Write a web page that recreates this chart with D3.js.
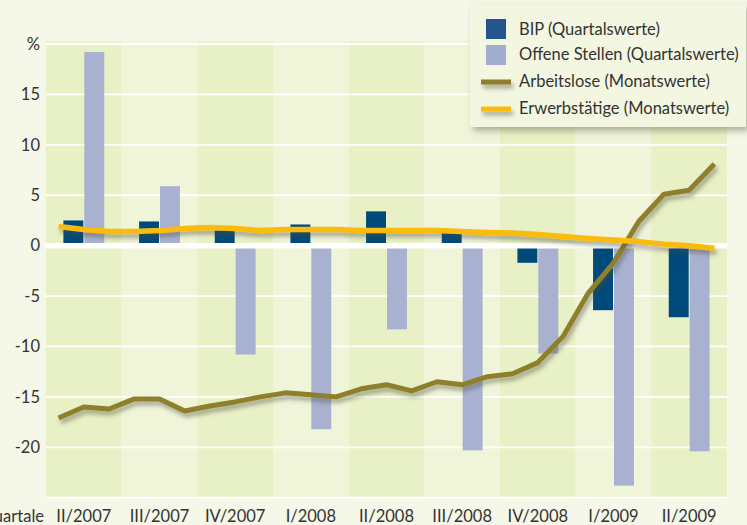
<!DOCTYPE html>
<html>
<head>
<meta charset="utf-8">
<script src="https://cdn.jsdelivr.net/npm/d3@7"></script>
<style>
  html, body { margin: 0; padding: 0; background: #f5f7e9; }
  svg { display: block; font-family: Lato, "Open Sans", sans-serif; }
</style>
</head>
<body>
<svg width="747" height="525"></svg>
<script>
// quarterly data (change vs. previous year, %)
var quarters = ["II/2007", "III/2007", "IV/2007", "I/2008", "II/2008", "III/2008", "IV/2008", "I/2009", "II/2009"];
var bip = [2.5, 2.4, 1.5, 2.1, 3.4, 1.3, -1.7, -6.4, -7.1];
var offeneStellen = [19.2, 5.9, -10.8, -18.2, -8.3, -20.3, -10.7, -23.8, -20.4];

// monthly data, April 2007 .. June 2009
var arbeitslose = [-17.1, -16.0, -16.2, -15.2, -15.2, -16.4, -15.9, -15.5, -15.0, -14.6,
    -14.8, -15.0, -14.2, -13.8, -14.4, -13.5, -13.8, -13.0, -12.7, -11.6,
    -9.0, -4.7, -1.7, 2.4, 5.1, 5.5, 8.1];
var erwerbstaetige = [1.9, 1.6, 1.4, 1.4, 1.5, 1.7, 1.8, 1.7, 1.5, 1.6,
    1.6, 1.6, 1.5, 1.5, 1.5, 1.5, 1.4, 1.3, 1.25, 1.1,
    0.9, 0.7, 0.55, 0.4, 0.15, 0.0, -0.25];

var yTicks = [20, 15, 10, 5, 0, -5, -10, -15, -20];
var yTickLabels = ["%", "15", "10", "5", "0", "-5", "-10", "-15", "-20"];

var legendLabels = ["BIP (Quartalswerte)", "Offene Stellen (Quartalswerte)", "Arbeitslose (Monatswerte)", "Erwerbstätige (Monatswerte)"];

var svg = d3.select("svg"),
    plotLeft = 46, plotRight = 727, plotTop = 44, plotBottom = 497.7,
    colors = { bip: "#004a7b", offene: "#a8b1cf", arbeitslose: "#8f7f2b", erwerbs: "#fbbb11" };

var x = d3.scaleBand().domain(quarters).range([plotLeft, plotRight]).padding(0);
var xMonth = d3.scaleLinear().domain([0, arbeitslose.length]).range([plotLeft, plotRight]);
var y = d3.scaleLinear().domain([20, -25]).range([plotTop, plotBottom]);

var defs = svg.append("defs");
var shadow = defs.append("filter").attr("id", "shadow")
    .attr("filterUnits", "userSpaceOnUse")
    .attr("x", 0).attr("y", 0).attr("width", 747).attr("height", 525);
shadow.append("feDropShadow").attr("dx", 2).attr("dy", 4).attr("stdDeviation", 2.2)
    .attr("flood-color", "#4a4a3a").attr("flood-opacity", 0.45);
var boxShadow = defs.append("filter").attr("id", "boxshadow")
    .attr("x", "-10%").attr("y", "-10%").attr("width", "130%").attr("height", "140%");
boxShadow.append("feDropShadow").attr("dx", 3).attr("dy", 4).attr("stdDeviation", 3)
    .attr("flood-color", "#6b6b55").attr("flood-opacity", 0.5);

// alternating column bands
svg.append("g").selectAll("rect")
    .data(quarters)
    .enter().append("rect")
    .attr("x", function(d) { return x(d); })
    .attr("y", plotTop - 3)
    .attr("width", x.bandwidth())
    .attr("height", plotBottom - plotTop + 3)
    .attr("fill", function(d, i) { return i % 2 === 0 ? "#e8f0c5" : "#f0f5d9"; });

// grid
svg.append("g").selectAll("line")
    .data(yTicks.concat([-25]))
    .enter().append("line")
    .attr("x1", plotLeft).attr("x2", plotRight)
    .attr("y1", function(d) { return y(d); })
    .attr("y2", function(d) { return y(d); })
    .attr("stroke", "#fff")
    .attr("stroke-width", 1.8);

// bars
var barW = x.bandwidth() * 0.27;
var bars = svg.append("g");
bars.selectAll("rect.bip")
    .data(bip)
    .enter().append("rect")
    .attr("class", "bip")
    .attr("x", function(d, i) { return x(quarters[i]) + x.bandwidth() / 2 - barW; })
    .attr("y", function(d) { return y(Math.max(0, d)); })
    .attr("width", barW - 0.5)
    .attr("height", function(d) { return Math.abs(y(d) - y(0)); })
    .attr("fill", colors.bip);
bars.selectAll("rect.offene")
    .data(offeneStellen)
    .enter().append("rect")
    .attr("class", "offene")
    .attr("x", function(d, i) { return x(quarters[i]) + x.bandwidth() / 2 + 0.5; })
    .attr("y", function(d) { return y(Math.max(0, d)); })
    .attr("width", barW - 0.5)
    .attr("height", function(d) { return Math.abs(y(d) - y(0)); })
    .attr("fill", colors.offene);

// zero line
svg.append("line")
    .attr("x1", plotLeft - 1).attr("x2", plotRight)
    .attr("y1", y(0)).attr("y2", y(0))
    .attr("stroke", "#fff").attr("stroke-width", 5.5);

// monthly lines
var line = d3.line()
    .x(function(d, i) { return xMonth(i + 0.5); })
    .y(function(d) { return y(d); });

svg.append("path")
    .datum(arbeitslose)
    .attr("d", line)
    .attr("fill", "none")
    .attr("stroke", colors.arbeitslose)
    .attr("stroke-width", 5)
    .attr("stroke-linejoin", "round")
    .attr("filter", "url(#shadow)");

svg.append("path")
    .datum(erwerbstaetige)
    .attr("d", line)
    .attr("fill", "none")
    .attr("stroke", colors.erwerbs)
    .attr("stroke-width", 5.5)
    .attr("stroke-linejoin", "round")
    .attr("filter", "url(#shadow)");

// y labels
svg.append("g").selectAll("text")
    .data(yTicks)
    .enter().append("text")
    .attr("x", 40)
    .attr("y", function(d) { return y(d); })
    .attr("dy", "0.35em")
    .attr("text-anchor", "end")
    .attr("font-size", 16.5)
    .attr("fill", "#333")
    .text(function(d, i) { return yTickLabels[i]; });

// x labels
svg.append("g").selectAll("text")
    .data(quarters)
    .enter().append("text")
    .attr("x", function(d) { return x(d) + x.bandwidth() / 2; })
    .attr("y", 522)
    .attr("text-anchor", "middle")
    .attr("font-size", 16.5)
    .attr("fill", "#333")
    .text(function(d) { return d; });

svg.append("text")
    .attr("x", 44)
    .attr("y", 522)
    .attr("text-anchor", "end")
    .attr("font-size", 16.5)
    .attr("fill", "#333")
    .text("Quartale");

// legend
var legend = svg.append("g");
legend.append("rect")
    .attr("x", 470).attr("y", 4)
    .attr("width", 276).attr("height", 123)
    .attr("fill", "#f3f6e1")
    .attr("filter", "url(#boxshadow)");

var legendY = [29, 54.5, 81, 108];
legend.append("rect").attr("x", 486).attr("y", 19).attr("width", 20).attr("height", 20).attr("fill", "#26558e");
legend.append("rect").attr("x", 486).attr("y", 45).attr("width", 20).attr("height", 20).attr("fill", "#a1acd0");
legend.append("rect").attr("x", 481).attr("y", 79.5).attr("width", 30).attr("height", 5)
    .attr("fill", colors.arbeitslose).attr("filter", "url(#shadow)");
legend.append("rect").attr("x", 481).attr("y", 106.5).attr("width", 30).attr("height", 5)
    .attr("fill", colors.erwerbs).attr("filter", "url(#shadow)");

legend.selectAll("text")
    .data(legendLabels)
    .enter().append("text")
    .attr("x", 519)
    .attr("y", function(d, i) { return legendY[i]; })
    .attr("dy", "0.35em")
    .attr("font-size", 16.5)
    .attr("fill", "#333")
    .text(function(d) { return d; });
</script>
</body>
</html>
